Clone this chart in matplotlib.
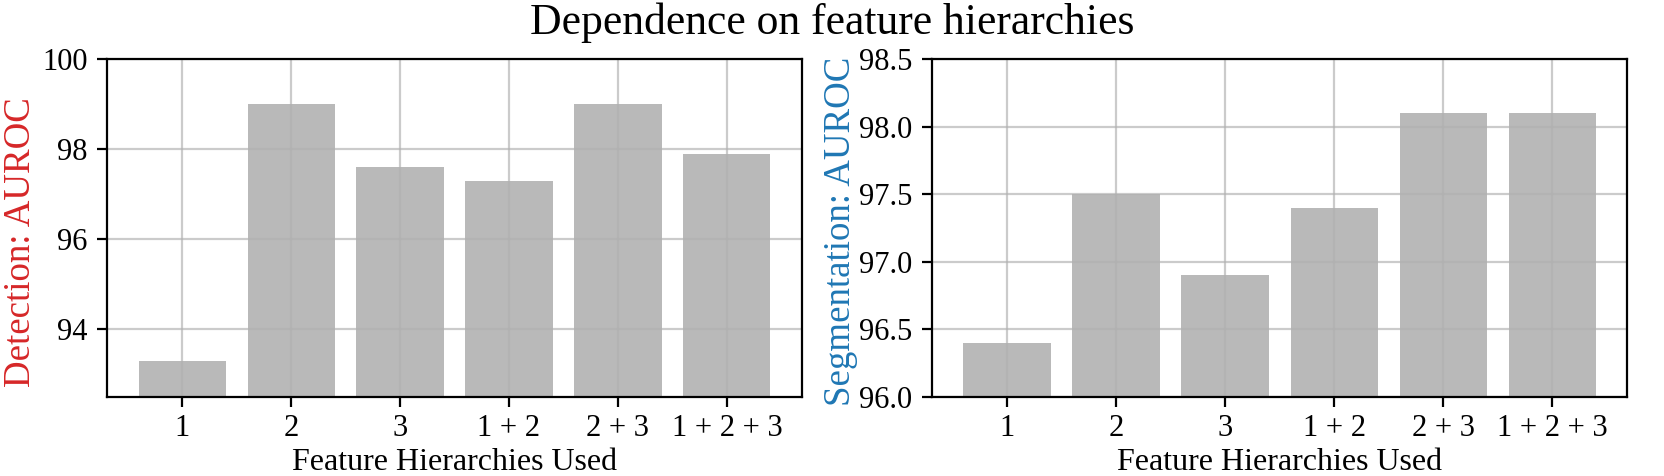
#!/usr/bin/env python3
"""Dependence on feature hierarchies: detection vs segmentation AUROC."""

import matplotlib

matplotlib.use("Agg")

import matplotlib.pyplot as plt

# Datos
CATEGORIES = ["1", "2", "3", "1 + 2", "2 + 3", "1 + 2 + 3"]
DETECTION = [93.3, 99.0, 97.6, 97.3, 99.0, 97.9]
SEGMENTATION = [96.4, 97.5, 96.9, 97.4, 98.1, 98.1]
DET_TICKS = [94, 96, 98, 100]
SEG_TICKS = [96.0, 96.5, 97.0, 97.5, 98.0, 98.5]

C_BAR = "#b9b9b9"
C_RED = "#d62728"
C_BLUE = "#1f77b4"

plt.rcParams["font.family"] = ["Liberation Serif", "DejaVu Serif"]
plt.rcParams["font.size"] = 10.5


def draw(ax, values, ticks, ylim, ylabel, color, fmt):
    x = range(len(CATEGORIES))
    ax.bar(x, values, width=0.8, color=C_BAR)
    ax.set_xticks(list(x))
    ax.set_xticklabels(CATEGORIES, fontsize=11)
    ax.set_yticks(ticks)
    ax.set_yticklabels([fmt.format(t) for t in ticks], fontsize=11)
    ax.tick_params(axis="x", pad=2.5)
    ax.set_ylim(*ylim)
    ax.grid(True, color="#b0b0b0", alpha=0.65, lw=0.8)
    ax.set_xlabel("Feature Hierarchies Used", fontsize=11.5, labelpad=2)
    ax.set_ylabel(ylabel, color=color, fontsize=13.3)


fig = plt.figure(figsize=(8.32, 2.38), dpi=200)
ax1 = fig.add_axes([0.0643, 0.166, 0.4177, 0.710])
ax2 = fig.add_axes([0.560, 0.166, 0.418, 0.710])

draw(ax1, DETECTION, DET_TICKS, (92.5, 100), "Detection: AUROC", C_RED, "{:.0f}")
draw(ax2, SEGMENTATION, SEG_TICKS, (96.0, 98.5), "Segmentation: AUROC", C_BLUE, "{:.1f}")
ax1.yaxis.set_label_coords(-0.099, 0.458)
ax2.yaxis.set_label_coords(-0.106, 0.49)

fig.suptitle("Dependence on feature hierarchies", fontsize=15.7, y=0.995)

fig.savefig("out.png", dpi=200, facecolor="white")
plt.close(fig)
